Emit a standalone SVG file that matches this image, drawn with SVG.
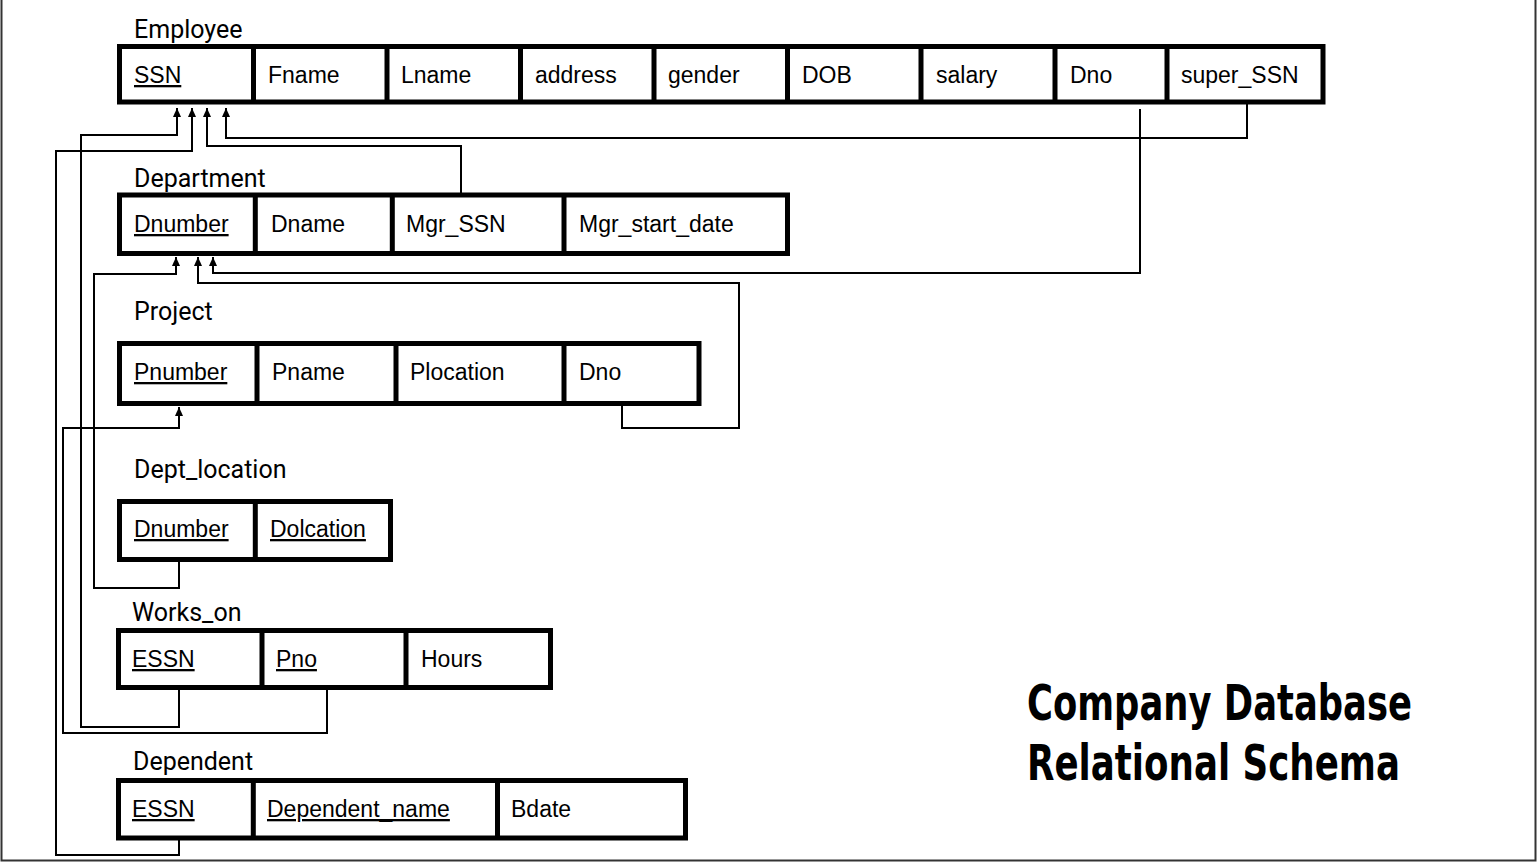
<svg xmlns="http://www.w3.org/2000/svg" width="1537" height="862" viewBox="0 0 1537 862">
<style>
.box{fill:none;stroke:#000;stroke-width:5}
.div{stroke:#000;stroke-width:5}
.ttl{font-family:Roboto,"Liberation Sans",sans-serif;font-size:25px;fill:#000}
.cell{font-family:"Liberation Sans",Arial,sans-serif;font-size:23px;fill:#000}
.key{text-decoration:underline}
.conn{fill:none;stroke:#000;stroke-width:2}
.big{font-family:"Liberation Sans Narrow","DejaVu Sans Condensed","Liberation Sans",sans-serif;font-weight:bold;font-size:49px;fill:#000}
.frame{stroke:#333;stroke-width:2;fill:none}
</style>
<defs>
<marker id="arr" markerUnits="userSpaceOnUse" markerWidth="10" markerHeight="10" refX="9" refY="4" orient="auto">
<path d="M0,0 L9,4 L0,8 z" fill="#000"/>
</marker>
</defs>
<rect width="1537" height="862" fill="#fff"/>
<path class="frame" d="M1.5,0 V860.5 H1535.5 V0"/>

<g id="employee">
<text class="ttl" x="134" y="38">Employee</text>
<rect class="box" x="119.5" y="46.5" width="1203.5" height="55.5"/>
<path class="div" d="M253.5,46.5V102M387,46.5V102M520.5,46.5V102M654,46.5V102M787.5,46.5V102M921,46.5V102M1055,46.5V102M1167,46.5V102"/>
<text class="cell key" x="134" y="83">SSN</text>
<text class="cell" x="268" y="83">Fname</text>
<text class="cell" x="401" y="83">Lname</text>
<text class="cell" x="535" y="83">address</text>
<text class="cell" x="668" y="83">gender</text>
<text class="cell" x="802" y="83">DOB</text>
<text class="cell" x="936" y="83">salary</text>
<text class="cell" x="1070" y="83">Dno</text>
<text class="cell" x="1181" y="83">super_SSN</text>
</g>

<g id="department">
<text class="ttl" x="134" y="187">Department</text>
<rect class="box" x="119.5" y="195" width="668" height="58.5"/>
<path class="div" d="M255.3,195V253.5M392.3,195V253.5M564,195V253.5"/>
<text class="cell key" x="134" y="232">Dnumber</text>
<text class="cell" x="271" y="232">Dname</text>
<text class="cell" x="406" y="232">Mgr_SSN</text>
<text class="cell" x="579" y="232">Mgr_start_date</text>
</g>

<g id="project">
<text class="ttl" x="134" y="320">Project</text>
<rect class="box" x="119.5" y="343.5" width="579.5" height="60"/>
<path class="div" d="M257,343.5V403.5M396,343.5V403.5M564,343.5V403.5"/>
<text class="cell key" x="134" y="380">Pnumber</text>
<text class="cell" x="272" y="380">Pname</text>
<text class="cell" x="410" y="380">Plocation</text>
<text class="cell" x="579" y="380">Dno</text>
</g>

<g id="dept_location">
<text class="ttl" x="134" y="478">Dept_location</text>
<rect class="box" x="119.5" y="501.5" width="271" height="58"/>
<path class="div" d="M255.3,501.5V559.5"/>
<text class="cell key" x="134" y="537">Dnumber</text>
<text class="cell key" x="270" y="537">Dolcation</text>
</g>

<g id="works_on">
<text class="ttl" x="132" y="621">Works_on</text>
<rect class="box" x="118.5" y="630.5" width="432" height="57"/>
<path class="div" d="M262,630.5V687.5M406,630.5V687.5"/>
<text class="cell key" x="132" y="667">ESSN</text>
<text class="cell key" x="276" y="667">Pno</text>
<text class="cell" x="421" y="667">Hours</text>
</g>

<g id="dependent">
<text class="ttl" x="133" y="770">Dependent</text>
<rect class="box" x="118.5" y="780.5" width="567" height="57.5"/>
<path class="div" d="M253.3,780.5V838M497.5,780.5V838"/>
<text class="cell key" x="132" y="817">ESSN</text>
<text class="cell key" x="267" y="817">Dependent_name</text>
<text class="cell" x="511" y="817">Bdate</text>
</g>

<g id="connectors">
<path class="conn" marker-end="url(#arr)" d="M179,690 V727 H81 V135 H177 V108"/>
<path class="conn" marker-end="url(#arr)" d="M179,840 V855 H56 V151 H192 V108"/>
<path class="conn" marker-end="url(#arr)" d="M461,193 V146 H207 V108"/>
<path class="conn" marker-end="url(#arr)" d="M1247,104 V138 H226 V108"/>
<path class="conn" marker-end="url(#arr)" d="M1140,109 V273 H213 V257"/>
<path class="conn" marker-end="url(#arr)" d="M622,405 V428 H739 V283 H198 V257"/>
<path class="conn" marker-end="url(#arr)" d="M179,561 V588 H94 V274 H176 V257"/>
<path class="conn" marker-end="url(#arr)" d="M327,689 V733 H63 V428 H179 V407"/>
</g>

<g id="title">
<text class="big" x="1027" y="720" textLength="385" lengthAdjust="spacingAndGlyphs">Company Database</text>
<text class="big" x="1027" y="780" textLength="373" lengthAdjust="spacingAndGlyphs">Relational Schema</text>
</g>
</svg>
